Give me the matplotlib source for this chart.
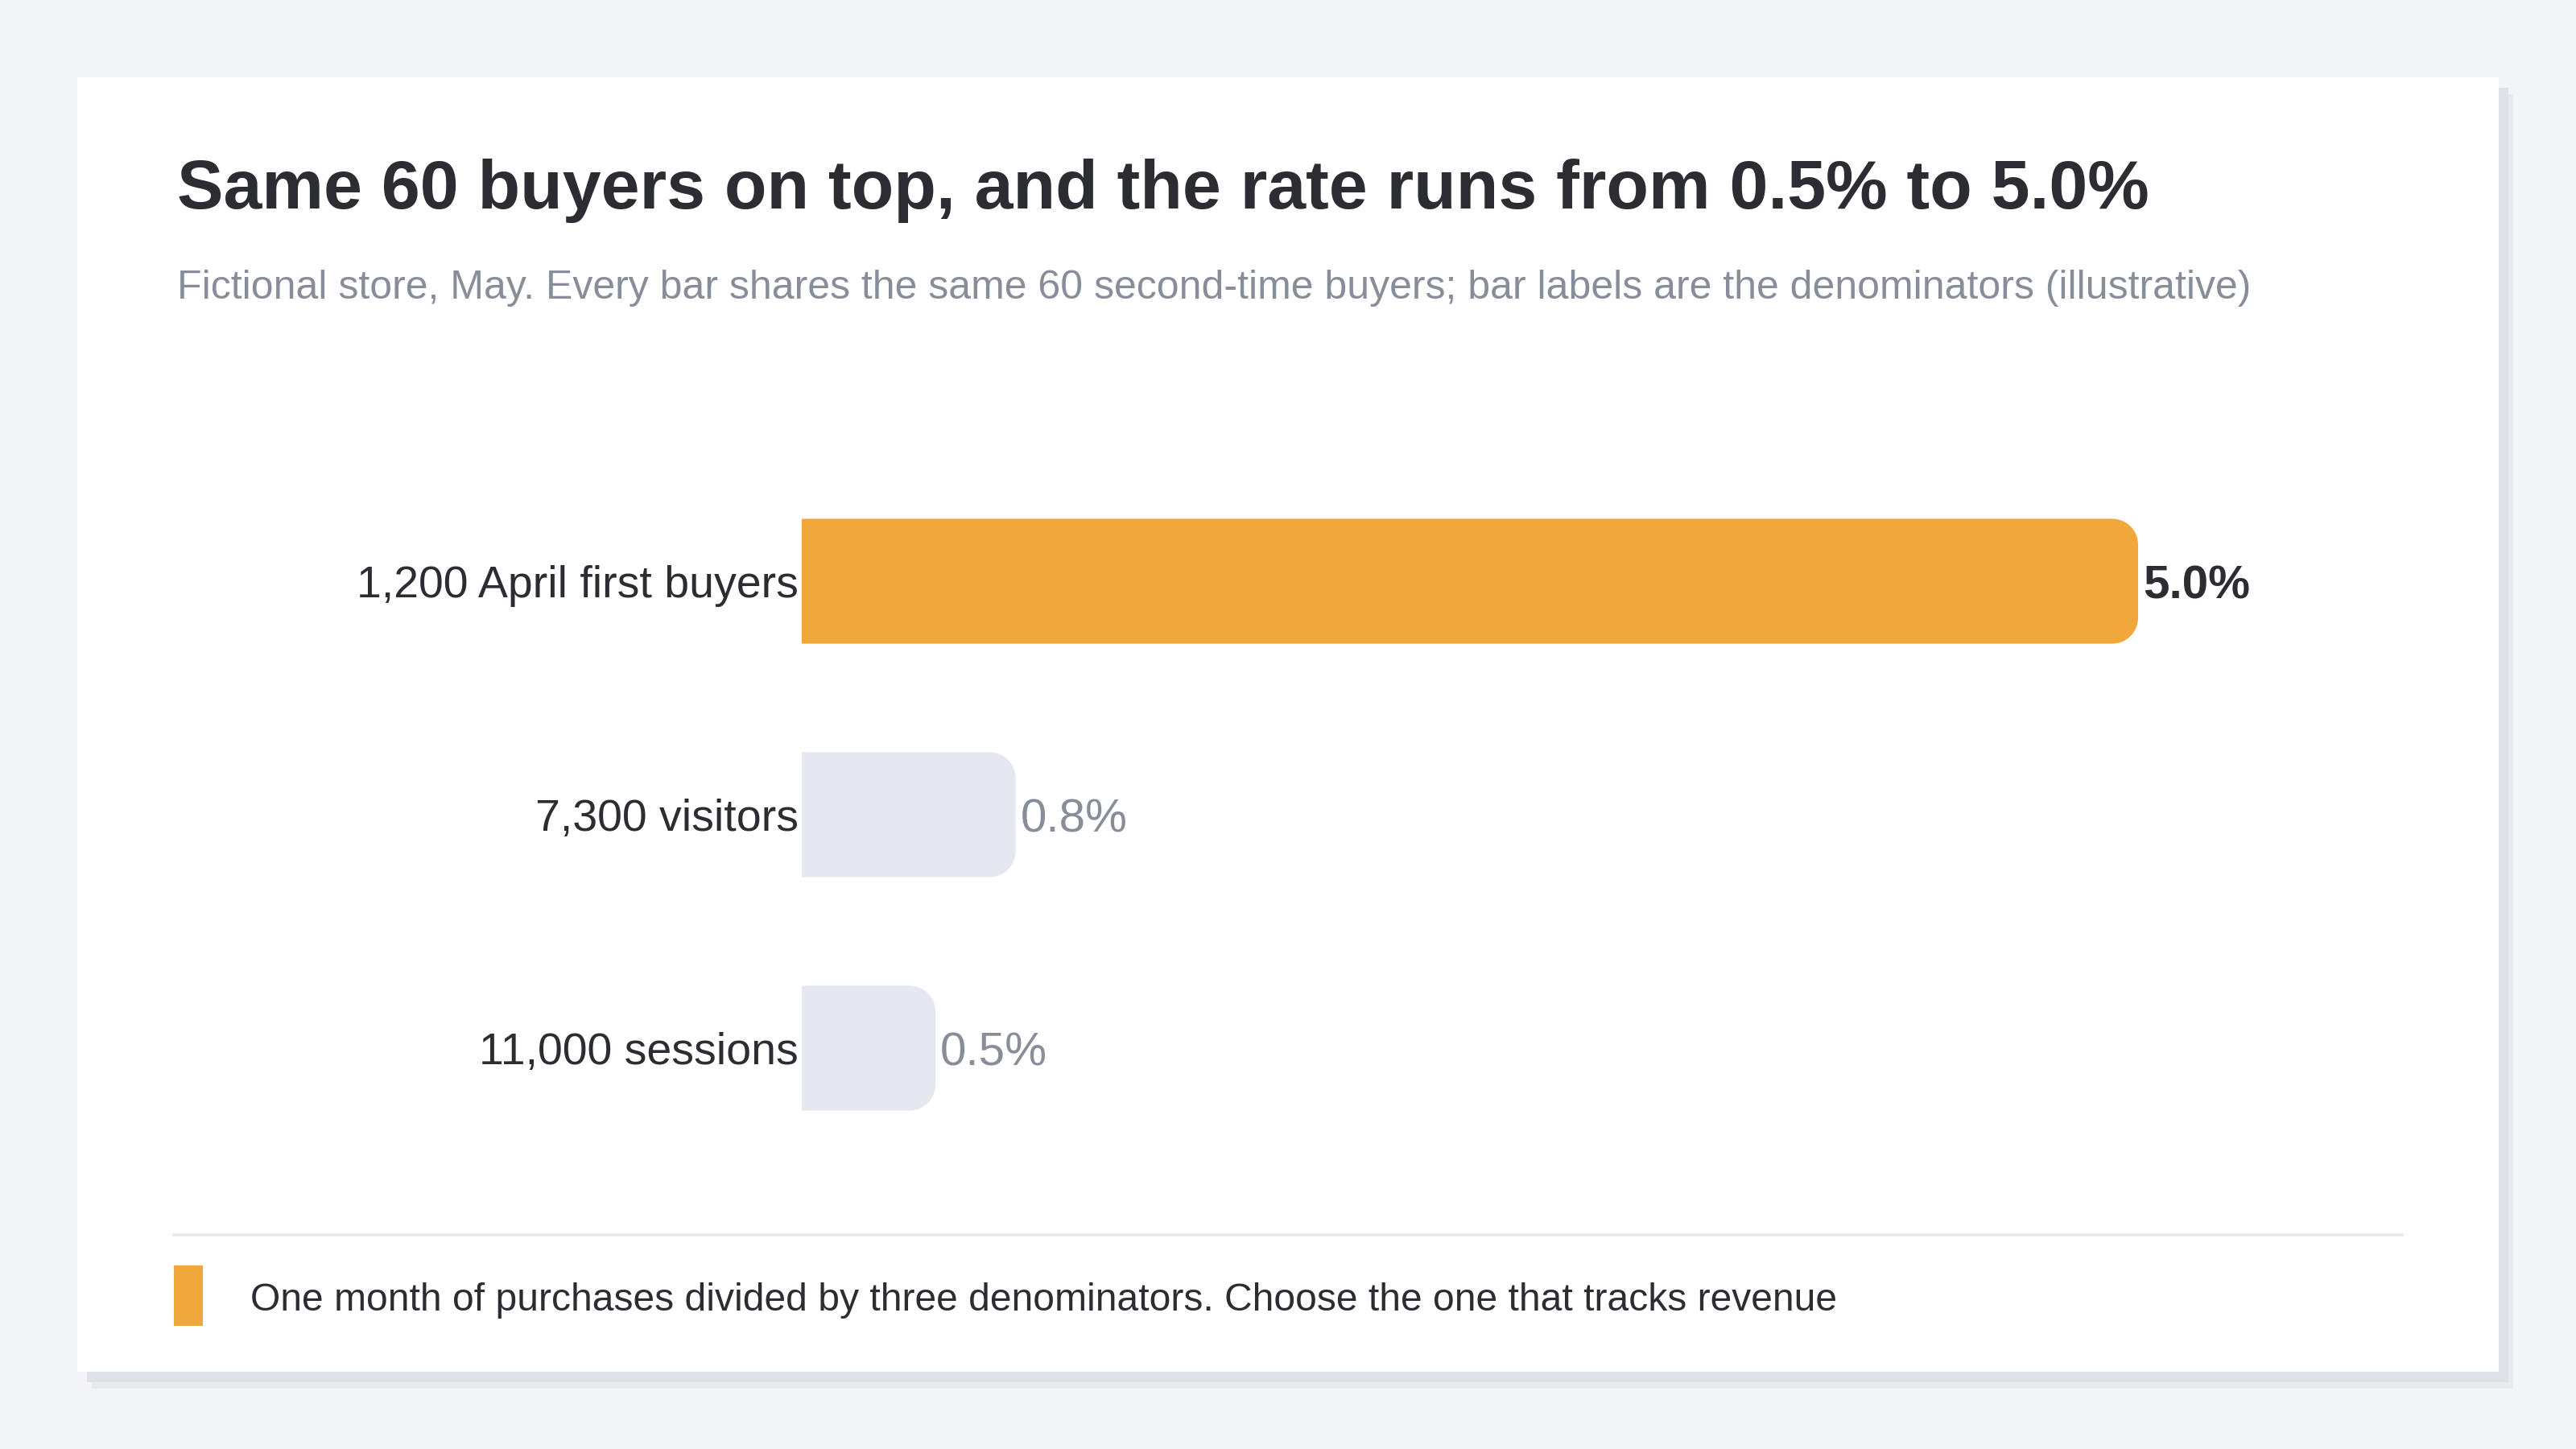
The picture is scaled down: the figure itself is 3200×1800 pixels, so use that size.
import matplotlib
matplotlib.use('Agg')
import matplotlib.pyplot as plt
from matplotlib.patches import PathPatch, Rectangle
from matplotlib.path import Path
from matplotlib.lines import Line2D

# chart data
categories = ['1,200 April first buyers', '7,300 visitors', '11,000 sessions']
rates = [5.0, 0.8, 0.5]
rate_labels = ['5.0%', '0.8%', '0.5%']
highlight = [True, False, False]

title = 'Same 60 buyers on top, and the rate runs from 0.5% to 5.0%'
subtitle = ('Fictional store, May. Every bar shares the same 60 second-time buyers; '
            'bar labels are the denominators (illustrative)')
note = 'One month of purchases divided by three denominators. Choose the one that tracks revenue'

# colours
BG = '#f3f4f8'
DARK = '#2b2d33'
GREY = '#878d99'
ORANGE = '#f0a83c'
LIGHT = '#e5e8f0'

W, H, DPI = 3200, 1800, 200
plt.rcParams['font.family'] = ['Liberation Sans', 'DejaVu Sans']

fig = plt.figure(figsize=(W / DPI, H / DPI), dpi=DPI)
fig.patch.set_facecolor(BG)

# helpers: pixel (from top-left) -> figure fraction
def fx(px):
    return px / W

def fy(py):
    return 1 - py / H

# card with a soft offset shadow
card_l, card_t, card_r, card_b = 96, 96, 3104, 1704
for dx, dy, c in [(18, 21, '#e9eaef'), (12, 13, '#dfe1e8')]:
    fig.add_artist(Rectangle((fx(card_l + dx), fy(card_b + dy)), (card_r - card_l) / W,
                             (card_b - card_t) / H, facecolor=c, lw=0, zorder=0))
fig.add_artist(Rectangle((fx(card_l), fy(card_b)), (card_r - card_l) / W,
                         (card_b - card_t) / H, facecolor='white', lw=0, zorder=1))

# title + subtitle
fig.text(fx(220), fy(259), title, fontsize=31.0, fontweight='bold', color=DARK,
         va='baseline', ha='left', zorder=3)
fig.text(fx(220), fy(371), subtitle, fontsize=18.0, color=GREY,
         va='baseline', ha='left', zorder=3)

# bar axes: x 0..5 spans pixels 996..2656, rows spaced 290 px
ax_l, ax_r = 996, 2656
row_px = 290
ax_t = 722 - row_px / 2
ax_b = ax_t + 3 * row_px
ax = fig.add_axes([fx(ax_l), fy(ax_b), (ax_r - ax_l) / W, (ax_b - ax_t) / H], zorder=2)
ax.set_xlim(0, 5.0)
ax.set_ylim(len(categories) - 0.5, -0.5)
ax.axis('off')

bar_h = 0.535
radius_px = 32
rx = radius_px * 5.0 / (ax_r - ax_l)
ry = radius_px * len(categories) / (ax_b - ax_t)
k = 0.5523


def right_rounded_bar(x1, y0, y1):
    # square left end, rounded right corners
    verts = [(0, y0), (x1 - rx, y0),
             (x1 - rx + k * rx, y0), (x1, y0 + ry - k * ry), (x1, y0 + ry),
             (x1, y1 - ry),
             (x1, y1 - ry + k * ry), (x1 - rx + k * rx, y1), (x1 - rx, y1),
             (0, y1), (0, y0)]
    codes = [Path.MOVETO, Path.LINETO,
             Path.CURVE4, Path.CURVE4, Path.CURVE4,
             Path.LINETO,
             Path.CURVE4, Path.CURVE4, Path.CURVE4,
             Path.LINETO, Path.CLOSEPOLY]
    return Path(verts, codes)


for i, (cat, val, lab, hl) in enumerate(zip(categories, rates, rate_labels, highlight)):
    col = ORANGE if hl else LIGHT
    ax.add_patch(PathPatch(right_rounded_bar(val, i - bar_h / 2, i + bar_h / 2),
                           facecolor=col, lw=0))
    # category label left of bar
    ax.annotate(cat, (0, i), xytext=(-4, -6), textcoords='offset pixels',
                ha='right', va='center', fontsize=20.0, color=DARK, annotation_clip=False)
    # value label right of bar
    ax.annotate(lab, (val, i), xytext=(6, -6), textcoords='offset pixels',
                ha='left', va='center', fontsize=21.0,
                fontweight='bold' if hl else 'normal',
                color=DARK if hl else GREY, annotation_clip=False)

# divider + footnote
fig.add_artist(Line2D([fx(216), fx(2984)], [fy(1534), fy(1534)], color='#e6e8ee',
                      lw=1.3, zorder=3))
fig.add_artist(Rectangle((fx(216), fy(1647)), 36 / W, 75 / H, facecolor=ORANGE,
                         lw=0, zorder=3))
fig.text(fx(311), fy(1616), note, fontsize=17.3, color=DARK, va='center', ha='left', zorder=3)

fig.savefig('out.png', dpi=DPI, facecolor=fig.get_facecolor())
